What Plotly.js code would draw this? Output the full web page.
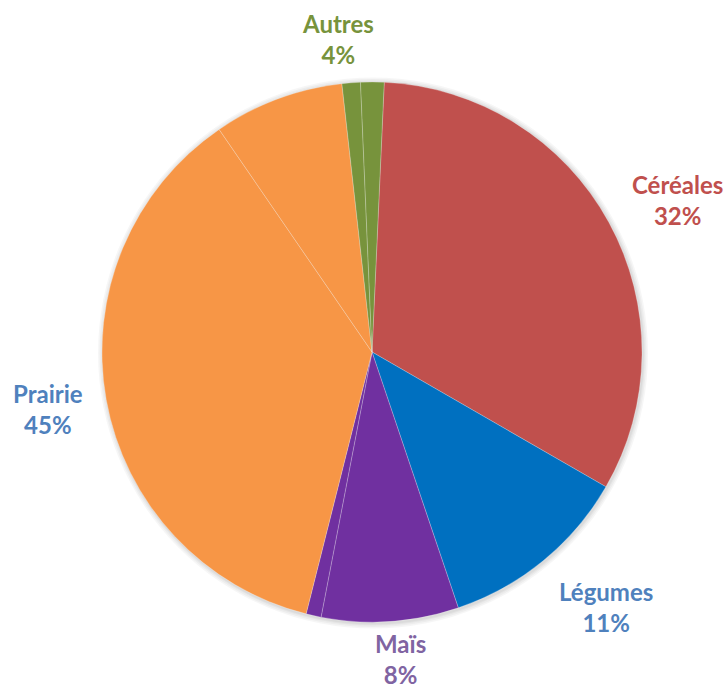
<!DOCTYPE html>
<html>
<head>
<meta charset="utf-8">
<script src="https://cdn.plot.ly/plotly-3.0.1.min.js"></script>
<style>html,body{margin:0;padding:0;background:#fff;}#chart{width:728px;height:686px;}</style>
</head>
<body>
<div id="chart"></div>
<script>
// Slices (clockwise from just right of 12 o'clock); some categories are split in two sub-slices
const sliceLabels = ["Céréales", "Légumes", "Maïs", "Maïs (2)", "Prairie", "Prairie (2)", "Autres", "Autres (2)"];
const sliceValues = [32.6, 11.5, 8.2, 0.9, 36.5, 7.8, 1.1, 1.4];
const sliceColors = ["#C0504D", "#0070C0", "#7030A0", "#7030A0", "#F79646", "#F79646", "#77933C", "#77933C"];

// Data labels shown on the chart
const labelNames = ["Autres", "Céréales", "Légumes", "Maïs", "Prairie"];
const labelPercents = ["4%", "32%", "11%", "8%", "45%"];
const labelColors = ["#77933C", "#C0504D", "#4F81BD", "#8064A2", "#4F81BD"];

const W = 728, H = 686;
const cx = 372, cy = 352, R = 270;
const px = x => x / W;
const py = y => 1 - y / H;

// label anchor positions in pixels
const labelPos = [[338, 39], [677, 200], [606, 607], [400, 659], [48, 409]];

const annotations = labelNames.map((n, i) => ({
  text: n + "<br>" + labelPercents[i],
  x: px(labelPos[i][0]), y: py(labelPos[i][1]),
  xref: "paper", yref: "paper",
  xanchor: "center", yanchor: "middle",
  showarrow: false,
  align: "center",
  borderpad: 0,
  font: {family: "Lato, 'Open Sans', sans-serif", size: 24, color: labelColors[i], weight: 700}
}));

// soft shadow rings around the pie
const shapes = [5, 3.5, 2, 1].map((d, k) => ({
  type: "circle", xref: "paper", yref: "paper", layer: "below",
  x0: px(cx - R - d + 1), x1: px(cx + R + d + 1),
  y0: py(cy + R + d + 1.5), y1: py(cy - R - d + 0.5),
  fillcolor: "rgba(0,0,0,0.035)", line: {width: 0}
}));

const trace = {
  type: "pie",
  labels: sliceLabels,
  values: sliceValues,
  sort: false,
  direction: "clockwise",
  rotation: 2.6,
  textinfo: "none",
  hoverinfo: "label+percent",
  marker: {colors: sliceColors, line: {color: "rgba(255,255,255,0.4)", width: 0.6}},
  domain: {x: [px(cx - R), px(cx + R)], y: [py(cy + R), py(cy - R)]},
  showlegend: false
};

Plotly.newPlot("chart", [trace], {
  width: W, height: H,
  margin: {l: 0, r: 0, t: 0, b: 0},
  paper_bgcolor: "#ffffff",
  showlegend: false,
  annotations: annotations,
  shapes: shapes
}, {displayModeBar: false, staticPlot: true});
</script>
</body>
</html>
